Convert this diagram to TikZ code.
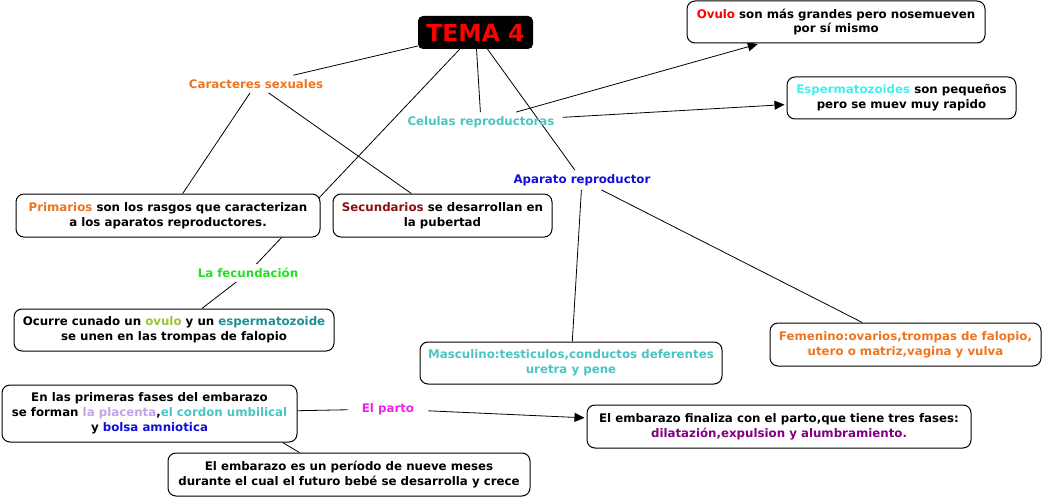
\documentclass[tikz,border=0pt]{standalone}
\usepackage{fontspec}
\setmainfont{DejaVu Sans}
\usetikzlibrary{arrows.meta, backgrounds}
\definecolor{temaRed}{HTML}{FF0000}
\definecolor{mapOrange}{HTML}{F0741E}
\definecolor{mapTeal}{HTML}{4CC4C4}
\definecolor{mapCyan}{HTML}{44EEEE}
\definecolor{mapBlue}{HTML}{1010D8}
\definecolor{mapMaroon}{HTML}{8B1010}
\definecolor{mapGreen}{HTML}{22E022}
\definecolor{mapLime}{HTML}{9AC435}
\definecolor{mapDarkTeal}{HTML}{1E9090}
\definecolor{mapLavender}{HTML}{C8A0E8}
\definecolor{mapMagenta}{HTML}{EE22EE}
\definecolor{mapPurple}{HTML}{800080}
\newcommand{\mapfont}{\bfseries\fontsize{11.8}{14.8}\selectfont}
\tikzset{
  lineK/.style={black, line width=0.8pt},
  arrowK/.style={-{Triangle[length=10pt,width=9pt]}, black, line width=0.8pt,
                 shorten >=2pt},
  boxW/.style={rectangle, rounded corners=8pt, draw=black, fill=white,
               line width=1pt, align=center, font=\mapfont, inner sep=2pt},
  boxTema/.style={rectangle, rounded corners=5pt, fill=black, text=temaRed,
                  font=\bfseries\fontsize{23.5}{28}\selectfont,
                  minimum width=115pt, minimum height=33pt},
  txtMap/.style={font=\mapfont, inner xsep=8pt, inner ysep=4pt},
}

\begin{document}
\begin{tikzpicture}[x=1pt, y=-1pt]
  \useasboundingbox (0,0) rectangle (1044,500);
  % conceptos
  \node[boxTema] (tema) at (475.5,32.5) {TEMA 4};
  \node[txtMap, text=mapOrange] (carac) at (256,84) {Caracteres sexuales};
  \node[txtMap, text=mapTeal] (celulas) at (481,122) {Celulas reproductoras};
  \node[txtMap, text=mapBlue] (aparato) at (582,180) {Aparato reproductor};
  \node[txtMap, text=mapGreen] (fecund) at (248,273) {La fecundación};
  \node[txtMap, text=mapMagenta, inner xsep=14pt] (parto) at (388,409) {El parto};
  % cajas
  \node[boxW, minimum width=298pt, minimum height=42pt] (ovulo) at (836,22)
    {{\color{temaRed}Ovulo} son más grandes pero nosemueven\\por sí mismo};
  \node[boxW, minimum width=229pt, minimum height=42pt] (esperm) at (901.5,98)
    {{\color{mapCyan}Espermatozoides} son pequeños\\pero se muev muy rapido};
  \node[boxW, minimum width=304pt, minimum height=43pt] (prim) at (168,215.5)
    {{\color{mapOrange}Primarios} son los rasgos que caracterizan\\a los aparatos reproductores.};
  \node[boxW, minimum width=219pt, minimum height=43pt] (secund) at (442.5,215.5)
    {{\color{mapMaroon}Secundarios} se desarrollan en\\la pubertad};
  \node[boxW, minimum width=320pt, minimum height=42pt] (ocurre) at (174,330)
    {Ocurre cunado un {\color{mapLime}ovulo} y un {\color{mapDarkTeal}espermatozoide}\\se unen en las trompas de falopio};
  \node[boxW, text=mapTeal, minimum width=302pt, minimum height=42pt] (masc) at (571,363)
    {Masculino:testiculos,conductos deferentes\\uretra y pene};
  \node[boxW, text=mapOrange, minimum width=271pt, minimum height=43pt] (femen) at (905.5,344.5)
    {Femenino:ovarios,trompas de falopio,\\utero o matriz,vagina y vulva};
  \node[boxW, minimum width=295pt, minimum height=57pt] (fases) at (149.5,413.5)
    {En las primeras fases del embarazo\\se forman {\color{mapLavender}la placenta},{\color{mapTeal}el cordon umbilical}\\y {\color{mapBlue}bolsa amniotica}};
  \node[boxW, minimum width=384pt, minimum height=43pt] (finaliza) at (779,426.5)
    {El embarazo finaliza con el parto,que tiene tres fases:\\{\color{mapPurple}dilatazión,expulsion y alumbramiento.}};
  \node[boxW, minimum width=362pt, minimum height=43pt] (periodo) at (349,474.5)
    {El embarazo es un período de nueve meses\\durante el cual el futuro bebé se desarrolla y crece};
  % conexiones
  \begin{scope}[on background layer]
    \draw[lineK] (tema) -- (carac);
    \draw[lineK] (tema) -- (celulas);
    \draw[lineK] (tema) -- (aparato);
    \draw[lineK] (tema) -- (fecund);
    \draw[lineK] (carac) -- (prim);
    \draw[lineK] (carac) -- (secund);
    \draw[arrowK] (celulas) -- (ovulo);
    \draw[arrowK] (celulas) -- (esperm);
    \draw[lineK] (aparato) -- (masc);
    \draw[lineK] (aparato) -- (femen);
    \draw[lineK] (fecund) -- (ocurre);
    \draw[lineK] (fases) -- (parto);
    \draw[arrowK] (parto) -- (finaliza);
    \draw[lineK] ([xshift=-15pt]fases.south east) -- ([xshift=132pt]periodo.north west);
  \end{scope}
\end{tikzpicture}
\end{document}
